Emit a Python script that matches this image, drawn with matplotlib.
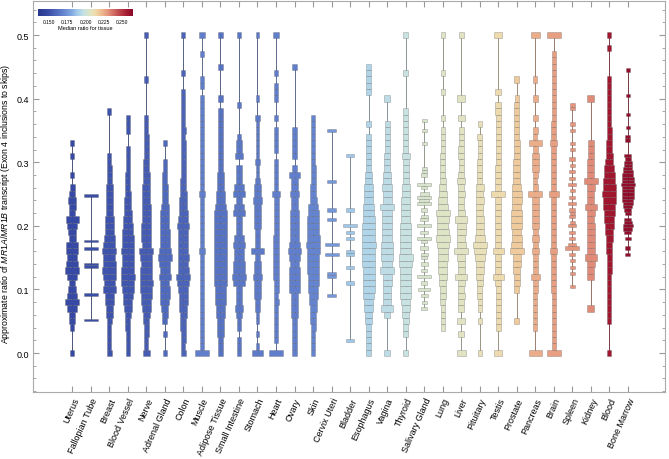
import matplotlib
matplotlib.use("Agg")
import matplotlib.pyplot as plt
import numpy as np
from matplotlib.cm import ScalarMappable
from matplotlib.colors import LinearSegmentedColormap, Normalize
from matplotlib.ticker import MultipleLocator

plt.rcParams["font.family"] = ["Liberation Sans", "DejaVu Sans"]
plt.rcParams["mathtext.fontset"] = "custom"
plt.rcParams["mathtext.it"] = "Liberation Sans:italic"
plt.rcParams["mathtext.rm"] = "Liberation Sans"

tissues = ["Uterus", "Fallopian Tube", "Breast", "Blood Vessel", "Nerve", "Adrenal Gland",
           "Colon", "Muscle", "Adipose Tissue", "Small Intestine", "Stomach", "Heart",
           "Ovary", "Skin", "Cervix Uteri", "Bladder", "Esophagus", "Vagina", "Thyroid",
           "Salivary Gland", "Lung", "Liver", "Pituitary", "Testis", "Prostate", "Pancreas",
           "Brain", "Spleen", "Kidney", "Blood", "Bone Marrow"]

# median ratio per tissue (sets the colour)
medians = [0.148, 0.150, 0.152, 0.153, 0.155, 0.160, 0.158, 0.168, 0.163, 0.165, 0.166,
           0.168, 0.168, 0.170, 0.176, 0.188, 0.192, 0.195, 0.198, 0.204, 0.206, 0.207,
           0.210, 0.213, 0.218, 0.225, 0.228, 0.230, 0.232, 0.258, 0.262]

# histogram bins: first bin centre, bin size, counts per bin
bin_start = [0.0, 0.052, 0.0, 0.0, 0.0, 0.0, 0.0, 0.0, 0.0, 0.0, 0.0, 0.0, 0.0, 0.0, 0.09,
             0.02, 0.0, 0.0, 0.0, 0.07, 0.0, 0.0, 0.0, 0.0, 0.0, 0.0, 0.0, 0.105, 0.07, 0.0, 0.15]
bin_step = [0.01, 0.004, 0.01, 0.01, 0.01, 0.01, 0.01, 0.01, 0.01, 0.01, 0.01, 0.01, 0.01,
            0.01, 0.005, 0.005, 0.01, 0.01, 0.01, 0.005, 0.01, 0.01, 0.01, 0.01, 0.01, 0.01,
            0.01, 0.005, 0.01, 0.01, 0.005]

counts = [
    [4, 0, 0, 0, 4, 6, 6, 10, 14, 10, 8, 6, 10, 14, 12, 10, 12, 12, 7, 8, 10, 13, 6, 7, 8, 6, 5, 0, 4, 0, 0, 4, 0, 4],
    [1, 0, 0, 0, 0, 0, 0, 0, 0, 0, 1, 0, 0, 0, 0, 0, 0, 0, 0, 0, 0, 1, 1, 0, 0, 0, 0, 0, 1, 0,
     0, 1, 0, 0, 0, 0, 0, 0, 0, 0, 0, 0, 0, 0, 0, 0, 0, 0, 0, 1],
    [5, 4, 4, 4, 4, 5, 6, 7, 8, 9, 12, 10, 12, 13, 12, 11, 13, 11, 10, 9, 8, 8, 7, 7, 6, 7, 6, 5, 5, 5, 4, 4, 0, 0, 0, 0, 0, 0, 4],
    [4, 4, 4, 4, 5, 5, 6, 8, 9, 10, 12, 13, 14, 13, 12, 12, 13, 12, 12, 11, 10, 9, 8, 7, 7, 6, 5, 5, 5, 4, 4, 4, 4, 0, 0, 4, 4, 4],
    [7, 4, 4, 5, 5, 6, 7, 9, 10, 11, 12, 13, 12, 12, 11, 12, 14, 9, 10, 10, 10, 9, 9, 9, 8, 8, 8, 7, 7, 6, 6, 5, 5, 5, 5, 4, 4, 4,
     0, 0, 0, 0, 0, 4, 0, 0, 0, 0, 0, 0, 4],
    [4, 0, 0, 4, 0, 5, 6, 7, 9, 10, 10, 9, 12, 10, 11, 14, 12, 10, 10, 10, 9, 9, 9, 8, 6, 6, 6, 5, 5, 4, 4, 0, 0, 4],
    [5, 4, 5, 5, 6, 6, 7, 8, 9, 9, 10, 12, 14, 11, 10, 11, 10, 10, 10, 10, 12, 10, 9, 8, 8, 7, 6, 6, 5, 5, 5, 5, 5, 5, 4, 5, 4, 4,
     4, 4, 4, 4, 0, 0, 4, 0, 0, 0, 0, 0, 4],
    [15, 4, 4, 4, 4, 4, 4, 4, 4, 4, 4, 4, 4, 4, 4, 4, 7, 4, 4, 4, 4, 4, 4, 4, 4, 7, 4, 4, 4, 4, 4, 4, 4, 4, 4, 4, 4, 4,
     4, 4, 4, 0, 4, 4, 0, 0, 0, 4, 0, 0, 7],
    [5, 5, 5, 6, 6, 7, 8, 9, 10, 10, 11, 12, 12, 13, 13, 12, 12, 13, 13, 13, 13, 12, 12, 10, 9, 8, 7, 6, 6, 5, 5, 5, 5, 4, 4, 4, 4,
     4, 4, 0, 4, 0, 0, 0, 0, 4, 0, 0, 0, 0, 4],
    [4, 4, 4, 0, 4, 4, 5, 7, 5, 5, 6, 10, 12, 11, 10, 9, 8, 10, 9, 6, 6, 6, 10, 8, 6, 10, 8, 5, 5, 5, 0, 7, 5, 5, 4, 0, 0, 0,
     0, 4, 0, 0, 0, 0, 0, 0, 0, 0, 0, 0, 4],
    [12, 4, 0, 4, 0, 4, 4, 5, 6, 7, 7, 7, 10, 8, 7, 6, 14, 6, 6, 6, 8, 7, 7, 7, 9, 8, 7, 5, 4, 4, 5, 4, 4, 4, 4, 4, 4, 5,
     0, 0, 4, 0, 0, 0, 0, 0, 0, 0, 0, 0, 4],
    [14, 0, 4, 4, 4, 4, 4, 4, 5, 4, 5, 5, 7, 6, 6, 6, 7, 6, 6, 5, 5, 5, 5, 5, 5, 9, 4, 4, 4, 4, 4, 0, 4, 4, 4, 4, 0, 4,
     0, 0, 4, 4, 4, 0, 4, 0, 0, 0, 0, 0, 6],
    [4, 4, 4, 5, 5, 5, 6, 6, 7, 7, 10, 10, 10, 10, 9, 10, 13, 10, 8, 8, 8, 8, 8, 6, 7, 9, 6, 6, 10, 4, 0, 5, 5, 5, 4, 4,
     0, 0, 0, 0, 0, 0, 0, 0, 0, 4],
    [4, 4, 4, 4, 5, 6, 6, 7, 8, 9, 10, 11, 11, 12, 12, 12, 13, 14, 13, 12, 12, 12, 11, 10, 7, 6, 6, 5, 5, 5, 4, 4, 4, 4, 4, 4, 4, 4],
    [3, 0, 0, 0, 0, 0, 3, 3, 0, 0, 0, 0, 0, 5, 0, 0, 5, 0, 0, 0, 0, 0, 0, 0, 3, 0, 0, 3, 0, 0,
     0, 0, 0, 0, 0, 0, 3, 0, 0, 0, 0, 0, 0, 0, 0, 0, 0, 0, 0, 0, 0, 0, 3],
    [3, 0, 0, 0, 0, 0, 0, 0, 0, 0, 0, 0, 0, 0, 0, 0, 0, 0, 3, 0, 0, 0, 0, 3, 0, 0, 0, 3, 3, 0,
     0, 0, 3, 0, 3, 0, 5, 0, 0, 0, 0, 3, 0, 0, 0, 0, 0, 0, 0, 0, 0, 0, 0, 0, 0, 0, 0, 0, 3],
    [4, 4, 4, 4, 5, 6, 7, 8, 9, 10, 11, 11, 11, 11, 12, 12, 12, 13, 12, 12, 12, 11, 10, 10, 9, 8, 8, 7, 7, 5, 5, 5, 4, 4, 4,
     0, 4, 0, 0, 0, 0, 4, 4, 4, 4, 4],
    [5, 0, 0, 0, 0, 0, 5, 9, 6, 6, 6, 7, 7, 11, 8, 9, 10, 9, 8, 8, 8, 8, 8, 11, 7, 7, 8, 6, 6, 5, 5, 5, 4, 4, 4, 4, 4, 0, 0, 0, 5],
    [4, 0, 0, 4, 4, 5, 6, 7, 8, 9, 9, 9, 10, 10, 11, 12, 10, 10, 9, 9, 9, 8, 8, 8, 8, 7, 7, 5, 5, 5, 5, 7, 4, 4, 4, 4, 4, 4, 4,
     0, 0, 0, 0, 0, 4, 0, 0, 0, 0, 0, 4],
    [6, 0, 5, 0, 7, 0, 12, 0, 6, 0, 14, 0, 6, 0, 7, 0, 6, 7, 0, 8, 0, 6, 14, 0, 8, 0, 14, 0, 8, 7,
     0, 6, 0, 14, 10, 14, 9, 0, 6, 14, 0, 0, 6, 5, 5, 0, 0, 0, 0, 0, 0, 0, 5, 0, 0, 0, 5, 0, 0, 5],
    [0, 0, 0, 0, 4, 4, 4, 4, 5, 6, 6, 7, 8, 9, 9, 10, 10, 12, 14, 12, 11, 12, 14, 10, 9, 8, 7, 6, 5, 5, 5, 5, 4, 4, 4, 4,
     0, 4, 0, 0, 0, 4, 0, 0, 4, 0, 0, 0, 0, 0, 4],
    [8, 0, 0, 5, 0, 7, 0, 5, 5, 6, 5, 6, 10, 6, 6, 7, 12, 8, 7, 8, 8, 10, 6, 5, 5, 6, 5, 7, 5, 4, 4, 5, 5, 4, 4, 4,
     0, 6, 0, 0, 7, 0, 0, 0, 0, 0, 0, 0, 0, 0, 4],
    [4, 0, 0, 0, 0, 4, 0, 4, 4, 5, 5, 6, 7, 8, 8, 10, 12, 14, 10, 8, 8, 8, 7, 7, 8, 7, 8, 5, 5, 5, 5, 4, 4, 4, 5, 0, 4],
    [7, 0, 0, 0, 4, 4, 4, 4, 4, 4, 4, 5, 10, 5, 5, 5, 9, 5, 5, 5, 5, 5, 5, 5, 5, 12, 5, 5, 5, 5, 4, 4, 4, 4, 4, 4, 4, 4,
     5, 5, 0, 5, 0, 0, 0, 0, 0, 0, 0, 0, 7],
    [0, 0, 0, 0, 0, 5, 0, 0, 0, 0, 5, 6, 6, 7, 8, 8, 14, 11, 10, 9, 11, 11, 11, 9, 10, 10, 9, 7, 7, 7, 7, 6, 6, 6, 5, 5, 5, 5,
     5, 5, 4, 0, 0, 5],
    [12, 0, 0, 0, 4, 4, 4, 4, 4, 4, 5, 5, 9, 5, 5, 5, 7, 5, 6, 5, 6, 6, 7, 6, 6, 13, 5, 4, 5, 6, 7, 6, 5, 12, 4, 5,
     0, 5, 0, 0, 5, 0, 0, 4, 0, 0, 0, 0, 0, 0, 9],
    [14, 4, 4, 4, 4, 4, 4, 4, 4, 4, 5, 5, 5, 5, 5, 5, 7, 5, 5, 5, 5, 5, 5, 5, 5, 10, 5, 5, 5, 5, 5, 5, 5, 7, 5, 5, 5, 4,
     4, 4, 4, 4, 4, 4, 4, 4, 4, 4, 0, 0, 14],
    [5, 0, 0, 0, 5, 0, 5, 0, 5, 0, 6, 0, 14, 8, 0, 6, 0, 6, 0, 8, 5, 0, 6, 5, 6, 0, 8, 0, 6, 0,
     5, 0, 8, 0, 6, 0, 6, 0, 5, 0, 6, 0, 0, 5, 0, 5, 0, 0, 0, 5, 0, 5, 0, 0, 0, 0, 5, 5],
    [6, 0, 0, 0, 0, 6, 6, 7, 10, 7, 7, 7, 7, 7, 6, 7, 10, 6, 6, 7, 12, 6, 6, 6, 5, 5, 5, 0, 0, 0, 0, 0, 0, 6],
    [4, 0, 0, 0, 0, 4, 4, 4, 4, 4, 4, 4, 4, 5, 5, 5, 6, 6, 7, 8, 9, 10, 11, 12, 13, 14, 13, 12, 11, 10, 8, 7, 6, 6, 5, 5,
     4, 4, 4, 4, 4, 4, 4, 4, 0, 0, 0, 0, 4, 0, 4],
    [0, 5, 0, 5, 0, 0, 6, 0, 7, 9, 10, 8, 7, 0, 6, 7, 9, 10, 11, 12, 12, 13, 13, 14, 13, 12, 11, 10, 9, 8,
     8, 6, 7, 0, 0, 0, 0, 5, 5, 0, 0, 4, 0, 0, 0, 4, 0, 0, 0, 0, 0, 4, 0, 0, 0, 0, 0, 0, 0, 4],
]

cmap = LinearSegmentedColormap.from_list("thermo", [
    (0.00, "#28378C"), (0.10, "#3649A4"), (0.27, "#6585D0"), (0.35, "#80A6E0"),
    (0.42, "#A6CEEA"), (0.48, "#C6E1E4"), (0.53, "#D8E5CC"), (0.57, "#E8E2BC"),
    (0.62, "#F0D4A4"), (0.68, "#EDB48E"), (0.74, "#E3917A"), (0.85, "#C04A50"),
    (0.95, "#A0152E"), (1.00, "#8A0A28")])
norm = Normalize(vmin=0.135, vmax=0.265)

fig = plt.figure(figsize=(6.69, 4.60), dpi=100)
ax = fig.add_axes([33 / 669, 1 - 393 / 460, 632 / 669, 391 / 460])

for i in range(len(tissues)):
    c = np.array(counts[i], dtype=float)
    vals = bin_start[i] + bin_step[i] * np.arange(len(c))
    nz = c > 0
    col = cmap(norm(medians[i]))
    line_col = tuple(0.55 * np.array(col[:3]))
    ax.plot([i, i], [vals[nz].min(), vals[nz].max()], color=line_col, lw=0.7,
            alpha=0.8, zorder=1)
    ax.bar(np.full(nz.sum(), i), bin_step[i], bottom=vals[nz] - bin_step[i] / 2,
           width=0.75 * c[nz] / c.max(), color=col, edgecolor=(0.3, 0.3, 0.3, 0.3),
           linewidth=0.6, zorder=2)

ax.set_xlim(-2.12, 32.0)
ax.set_ylim(-0.0613, 0.5535)
ax.set_xticks(range(len(tissues)))
ax.set_xticklabels(tissues, rotation=66, ha="right", va="top", rotation_mode="anchor",
                   fontsize=6.5)
ax.set_yticks([0.0, 0.1, 0.2, 0.3, 0.4, 0.5])
ax.set_yticklabels(["0.0", "0.1", "0.2", "0.3", "0.4", "0.5"], fontsize=6.5)
ax.yaxis.set_minor_locator(MultipleLocator(0.02))
ax.tick_params(which="both", direction="in", top=True, right=True, color="#999999")
ax.tick_params(which="major", length=4, pad=3)
ax.tick_params(which="minor", length=2)
for s in ax.spines.values():
    s.set_color("#aaaaaa")
ax.set_ylabel(r"Approximate ratio of $\mathit{MR1A/MR1B}$ transcript (Exon 4 inclusions to skips)",
              fontsize=6.3)
ax.yaxis.set_label_coords(-0.034, 0.483)

cax = fig.add_axes([38 / 669, 1 - 17 / 460, 95 / 669, 7 / 460])
cb = fig.colorbar(ScalarMappable(norm=norm, cmap=cmap), cax=cax, orientation="horizontal")
cb.set_ticks([0.150, 0.175, 0.200, 0.225, 0.250])
cb.set_ticklabels(["0.150", "0.175", "0.200", "0.225", "0.250"])
cb.outline.set_visible(False)
cax.tick_params(labelsize=3.5, length=0, pad=2)
cb.set_label("Median ratio for tissue", fontsize=4, labelpad=1)

fig.savefig("out.png", dpi=100)
